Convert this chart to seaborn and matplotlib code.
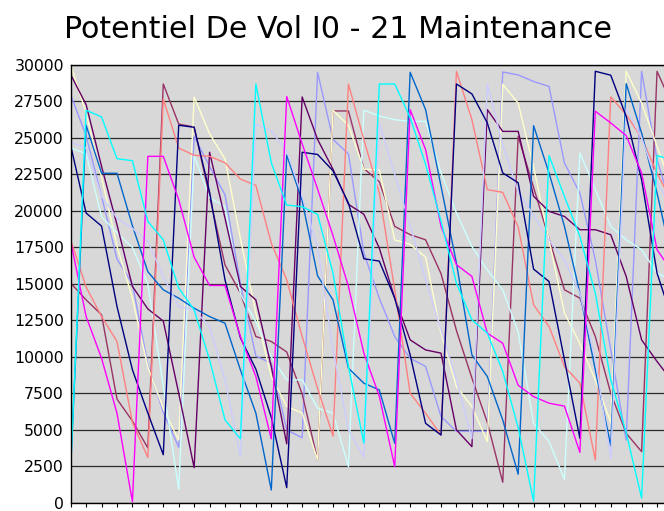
import matplotlib
matplotlib.use("Agg")
import matplotlib.pyplot as plt
import seaborn as sns
import pandas as pd

title = "Potentiel De Vol I0 - 21 Maintenance"
y_ticks = [0, 2500, 5000, 7500, 10000, 12500, 15000, 17500, 20000, 22500, 25000, 27500, 30000]

periwinkle = [27950, 25150, 21000, 16700, 15000, 9450, 6200, 3800, 25110, 23050, 21100, 15000, 10050, 9560, 4990, 4450, 29500, 24900, 23900, 17110, 14020, 11390, 9900, 9340, 5910, 4890, 4890, 4890, 29520, 29320, 28870, 28530, 23280, 21220, 16650, 10470, 4300, 29570, 23510, 20000]
plum = [15050, 13900, 12880, 7100, 5600, 3750, 28700, 25950, 25750, 21000, 16300, 14360, 11390, 11050, 10330, 7450, 2940, 26850, 26850, 22900, 22000, 18940, 18370, 18020, 15700, 11800, 8550, 5500, 1400, 25110, 21600, 18100, 14590, 14020, 11390, 7500, 4760, 3500, 29570, 27200]
pale_yellow = [30000, 26700, 22300, 17600, 14000, 9300, 6450, 4300, 27810, 25290, 23560, 18100, 13000, 8650, 6600, 6140, 2950, 26890, 25870, 22860, 22800, 18010, 17700, 16830, 11600, 7960, 6590, 4190, 28680, 27380, 23000, 18000, 13000, 10900, 8400, 5500, 29570, 27400, 24420, 21500]
pale_cyan = [24300, 23930, 19590, 18500, 17500, 15000, 8000, 900, 23800, 20900, 20300, 14300, 12400, 10000, 8420, 8420, 6480, 6140, 2470, 26900, 26500, 26250, 26140, 26140, 22600, 19850, 17560, 15960, 14590, 11700, 5440, 4200, 1600, 23970, 21460, 18940, 18020, 17340, 15740, 15200]
purple = [29340, 27280, 23050, 19050, 14820, 13280, 12450, 7500, 2400, 24020, 19500, 14820, 13900, 9330, 4030, 27810, 24900, 22850, 20450, 19770, 17450, 14020, 11160, 10470, 10250, 4990, 3840, 26940, 25450, 25450, 21000, 19970, 19620, 18710, 18710, 18370, 15510, 11160, 9680, 8300]
salmon = [18000, 14780, 12760, 11050, 5500, 3100, 27670, 24310, 23810, 23740, 23300, 22180, 21750, 17790, 15280, 11390, 7840, 4570, 28690, 24880, 21230, 14590, 7500, 6130, 4640, 29570, 26260, 21460, 21270, 18900, 13560, 12080, 9330, 8190, 2930, 27810, 26600, 25000, 22600, 20500]
blue = [2500, 25870, 22580, 22580, 18980, 15830, 14590, 14020, 13330, 12760, 12300, 9100, 6140, 870, 23830, 20700, 15550, 13900, 9220, 8190, 7730, 4070, 29500, 26940, 21690, 16420, 10130, 8650, 5670, 1950, 25840, 22600, 18940, 14360, 9100, 3900, 28720, 25340, 21230, 16500]
lavender = [24700, 24300, 21000, 19500, 18800, 17900, 15500, 13450, 13220, 12080, 8420, 3170, 25950, 25480, 24100, 21000, 17500, 10500, 5000, 3100, 26000, 22500, 19000, 15270, 11850, 8420, 4380, 28700, 24500, 21300, 19700, 18000, 16650, 14360, 9790, 3040, 27000, 25000, 22000, 20000]
navy = [24470, 19850, 18960, 13450, 9110, 6140, 3290, 25870, 25730, 21300, 15270, 11300, 9150, 5850, 1030, 24020, 23870, 22750, 20540, 16720, 16560, 14020, 10130, 5440, 4640, 28700, 28020, 26030, 22600, 21930, 16010, 15160, 9790, 4410, 29570, 29300, 26480, 22140, 15740, 12500]
magenta = [17900, 12760, 9900, 6130, 70, 23740, 23740, 20770, 16830, 14890, 14890, 11390, 8650, 4380, 27840, 24600, 21500, 18300, 14820, 10250, 7300, 2470, 26940, 24200, 18940, 16310, 15510, 11620, 10930, 8050, 7270, 6820, 6620, 3450, 26830, 26030, 25160, 22600, 17340, 15800]
cyan = [2400, 26900, 26440, 23580, 23440, 19280, 18020, 14710, 13220, 9790, 5680, 4380, 28700, 23300, 20400, 20290, 19760, 15730, 9340, 4090, 28700, 28700, 26400, 23200, 19300, 15050, 12530, 11620, 9000, 5150, 100, 23790, 20990, 18250, 14360, 8420, 4800, 320, 23790, 23500]

series = {
    "S1": periwinkle, "S2": plum, "S3": pale_yellow, "S4": pale_cyan,
    "S5": purple, "S6": salmon, "S7": blue, "S8": lavender,
    "S9": navy, "S10": magenta, "S11": cyan,
}
colors = {
    "S1": "#9999FF", "S2": "#993366", "S3": "#FFFFCC", "S4": "#CCFFFF",
    "S5": "#660066", "S6": "#FF8080", "S7": "#0066CC", "S8": "#CCCCFF",
    "S9": "#000080", "S10": "#FF00FF", "S11": "#00FFFF",
}

rows = []
for name, vals in series.items():
    for i, v in enumerate(vals):
        rows.append({"idx": i, "val": v, "series": name})
df = pd.DataFrame(rows)

W, H = 664, 511
fig = plt.figure(figsize=(W / 100, H / 100), dpi=100)
n = len(navy)
left_px, step_px = 70.7, 15.43
x_max = n - 1
ax = fig.add_axes([left_px / W, (H - 502.7) / H, x_max * step_px / W, (502.7 - 65) / H])
ax.set_facecolor("#d8d8d8")

sns.lineplot(data=df, x="idx", y="val", hue="series", hue_order=list(series.keys()),
             palette=colors, estimator=None, sort=False, legend=False,
             linewidth=1.0, ax=ax)

ax.set_xlim(0, x_max)
ax.set_ylim(0, 30000)
ax.set_yticks(y_ticks)
ax.set_yticklabels([str(t) for t in y_ticks])
ax.set_xticks(range(0, n))
ax.set_xticklabels([])
ax.set_xlabel("")
ax.set_ylabel("")
ax.yaxis.grid(True, color="#2a2a2a", linewidth=0.9)
ax.xaxis.grid(False)
ax.set_axisbelow(True)
ax.tick_params(axis="y", length=0, pad=5, labelsize=11.3, labelcolor="black")
ax.tick_params(axis="x", length=3, width=0.8, direction="out", color="black")
for s in ["left", "top", "bottom"]:
    ax.spines[s].set_color("black")
    ax.spines[s].set_linewidth(1.0)
ax.spines["right"].set_visible(False)

fig.text(337.5 / W, 1 - 38 / H, title, ha="center", va="baseline", fontsize=21.7, color="black")

fig.savefig("out.png", dpi=100)
